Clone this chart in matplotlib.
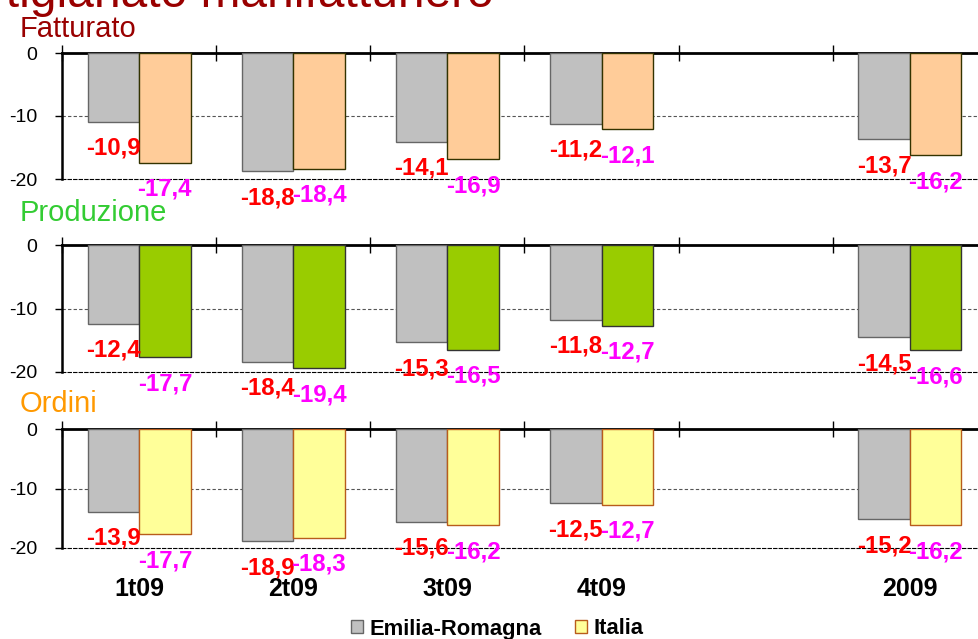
import numpy as np
import matplotlib.pyplot as plt
from matplotlib.patches import Patch

plt.rcParams['font.family'] = ['Liberation Sans', 'DejaVu Sans']
plt.rcParams['axes.unicode_minus'] = False

# dati (variazioni % tendenziali)
categorie = ['1t09', '2t09', '3t09', '4t09', '', '2009']
fatturato_er = [-10.9, -18.8, -14.1, -11.2, np.nan, -13.7]
fatturato_it = [-17.4, -18.4, -16.9, -12.1, np.nan, -16.2]
produzione_er = [-12.4, -18.4, -15.3, -11.8, np.nan, -14.5]
produzione_it = [-17.7, -19.4, -16.5, -12.7, np.nan, -16.6]
ordini_er = [-13.9, -18.9, -15.6, -12.5, np.nan, -15.2]
ordini_it = [-17.7, -18.3, -16.2, -12.7, np.nan, -16.2]

W, H = 979, 639
fig = plt.figure(figsize=(W / 100, H / 100), dpi=100)

fig.text(494 / W, 1 - 7 / H, 'Artigianato manifatturiero', ha='right', va='baseline',
         fontsize=34.5, color='#990000')

# (titolo, colore titolo, ER, IT, riempimento IT, bordo IT, top px, bottom px, baseline titolo px)
pannelli = [
    ('Fatturato', '#990000', fatturato_er, fatturato_it, '#FFCC99', '#333300', 53, 179, 37),
    ('Produzione', '#33CC33', produzione_er, produzione_it, '#99CC00', '#333333', 245, 372, 221),
    ('Ordini', '#FF9900', ordini_er, ordini_it, '#FFFF99', '#B85C1C', 429, 548, 412),
]

def fmt(v):
    return f'{v:.1f}'.replace('.', ',')

x = np.arange(len(categorie))
w = 0.334
for k, (titolo, col_t, er, it, fill, edge, top, bottom, base) in enumerate(pannelli):
    ax = fig.add_axes([62 / W, 1 - bottom / H, (987 - 62) / W, (bottom - top) / H])
    ax.bar(x - w / 2, er, w, color='#C0C0C0', edgecolor='#666666', lw=1, zorder=3)
    ax.bar(x + w / 2, it, w, color=fill, edgecolor=edge, lw=1, zorder=3)
    ax.set_xlim(-0.5, len(categorie) - 0.5)
    ax.set_ylim(-20, 0)
    ax.set_yticks([0, -10, -20])
    ax.axhline(-10, color='#555555', lw=0.8, ls=(0, (3, 2)), zorder=1)

    ax.spines['right'].set_visible(False)
    ax.spines['top'].set_linewidth(2)
    ax.spines['left'].set_linewidth(1.8)
    ax.spines['bottom'].set_linestyle((0, (3, 2)))
    ax.spines['bottom'].set_linewidth(0.8)

    ax.set_xticks(np.arange(-0.5, len(categorie)), minor=True)
    ax.tick_params(axis='x', which='minor', top=True, bottom=False, direction='inout',
                   length=12, width=1)
    ax.set_xticks(x)
    if k == len(pannelli) - 1:
        ax.set_xticklabels(categorie, fontsize=18, fontweight='bold')
    else:
        ax.set_xticklabels([])
    ax.tick_params(axis='x', which='major', bottom=False, top=False, length=0, pad=21)
    ax.tick_params(axis='y', direction='out', length=5, width=1, labelsize=14, pad=13)

    for xs, vals, col in [(x - w / 2, er, '#FF0000'), (x + w / 2, it, '#FF00FF')]:
        for xi, v in zip(xs, vals):
            if np.isnan(v):
                continue
            ax.annotate(fmt(v), (xi, v), xytext=(0, -15), textcoords='offset pixels',
                        ha='center', va='top', color=col, fontsize=17.3, fontweight='bold',
                        annotation_clip=False, zorder=5)

    fig.text(20 / W, 1 - base / H, titolo, va='baseline', fontsize=21, color=col_t)

fig.legend(handles=[Patch(fc='#C0C0C0', ec='#666666'), Patch(fc='#FFFF99', ec='#B85C1C')],
           labels=['Emilia-Romagna', 'Italia'], loc='center',
           bbox_to_anchor=(497 / W, 1 - 629 / H), ncol=2, frameon=False,
           prop=dict(weight='bold', size=15.8), handlelength=0.55, handleheight=0.55,
           handletextpad=0.3, columnspacing=1.5)

fig.savefig('out.png', dpi=100)
